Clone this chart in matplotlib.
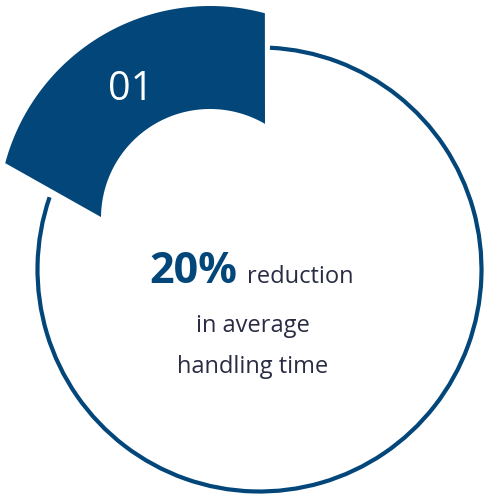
import numpy as np
import matplotlib
matplotlib.use("Agg")
import matplotlib.pyplot as plt
from matplotlib.path import Path
from matplotlib.patches import PathPatch, Arc

# values shown in the graphic
share = 0.20
step_label = "01"
headline = "20%"
line1_rest = "reduction"
more_lines = ["in average", "handling time"]

blue = "#03467a"
text_col = "#2a2c44"

plt.rcParams['font.family'] = ['Open Sans', 'DejaVu Sans']

fig = plt.figure(figsize=(4.85, 4.95), dpi=100)
ax = fig.add_axes([0, 0, 1, 1])
ax.set_xlim(0, 485)
ax.set_ylim(495, 0)
ax.axis('off')

# ring outline, open where the highlighted share sits
cx, cy, r = 259.5, 269.5, 222
start = 90
end = start + 360 * share
ring = Arc((cx, cy), 2 * r, 2 * r, theta1=-(360 + start - 2.7), theta2=-(end - 1),
           color=blue, lw=3.0)
ax.add_patch(ring)

# pulled-out segment for the share
wx, wy = 210, 218
r_out, r_in = 212, 109
t_out = np.radians(np.linspace(75, 165, 80))
t_in = np.radians(np.linspace(179.5, 59.7, 80))
xs = np.concatenate([wx + r_out * np.cos(t_out), wx + r_in * np.cos(t_in)])
ys = np.concatenate([wy - r_out * np.sin(t_out), wy - r_in * np.sin(t_in)])
verts = list(zip(xs, ys)) + [(xs[0], ys[0])]
codes = [Path.MOVETO] + [Path.LINETO] * (len(verts) - 2) + [Path.CLOSEPOLY]
ax.add_patch(PathPatch(Path(verts, codes), facecolor=blue, edgecolor='none'))

ax.text(131, 100.5, step_label, color='white', fontsize=28.5, fontweight='normal',
        ha='center', va='baseline')

ax.text(237, 283, headline, color=blue, fontsize=31, fontweight='bold',
        ha='right', va='baseline')
ax.text(247, 283, line1_rest, color=text_col, fontsize=17,
        ha='left', va='baseline')
for txt, yb in zip(more_lines, [332, 373]):
    ax.text(253, yb, txt, color=text_col, fontsize=17, ha='center', va='baseline')

fig.savefig('out.png', dpi=100, facecolor='white')
